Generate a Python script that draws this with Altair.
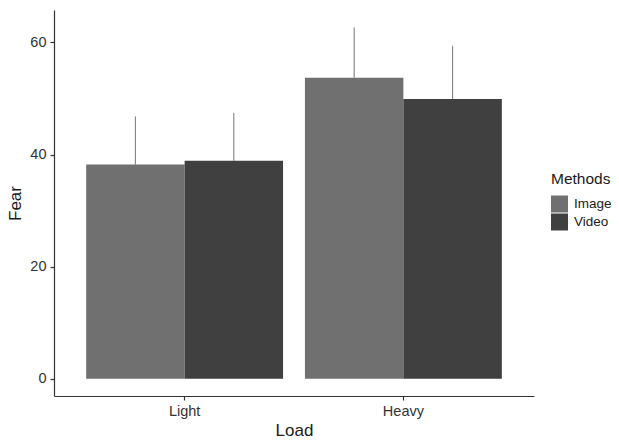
import altair as alt
import pandas as pd

loads = ["Light", "Light", "Heavy", "Heavy"]
methods = ["Image", "Video", "Image", "Video"]
fear = [38.2, 38.9, 53.7, 49.9]
upper = [46.8, 47.4, 62.7, 59.4]

load_order = ["Light", "Heavy"]
method_order = ["Image", "Video"]
colors = ["#707070", "#404040"]

df = pd.DataFrame({"Load": loads, "Methods": methods, "Fear": fear, "Upper": upper})

FONT = "Liberation Sans"

x = alt.X("Load:N", sort=load_order, title="Load",
          scale=alt.Scale(paddingInner=0.1, paddingOuter=0.147),
          axis=alt.Axis(labelAngle=0))
xo = alt.XOffset("Methods:N", sort=method_order,
                 scale=alt.Scale(paddingInner=0, paddingOuter=0))
yscale = alt.Scale(domain=[-3.1, 65.8], nice=False, zero=False)

bars = alt.Chart(df).mark_bar().encode(
    x=x,
    xOffset=xo,
    y=alt.Y("Fear:Q", title="Fear", scale=yscale,
            axis=alt.Axis(values=[0, 20, 40, 60])),
    y2=alt.datum(0),
    color=alt.Color("Methods:N", sort=method_order,
                    scale=alt.Scale(domain=method_order, range=colors),
                    legend=alt.Legend(orient="none", legendX=497, legendY=162,
                                      symbolType="square", symbolSize=289,
                                      symbolStrokeWidth=0, rowPadding=1,
                                      labelOffset=6, titlePadding=8)),
)

err = alt.Chart(df).mark_rule(color="#777777", strokeWidth=1).encode(
    x=x,
    xOffset=xo,
    y=alt.Y("Fear:Q", scale=yscale),
    y2="Upper:Q",
)

chart = alt.layer(err, bars).properties(
    width=480, height=386,
    autosize=alt.AutoSizeParams(type="none"),
    padding={"left": 46, "top": 2, "right": 77, "bottom": 45},
).configure_view(stroke=None).configure_axis(
    grid=False,
    domainColor="#333333",
    domainWidth=1.2,
    tickColor="#333333",
    tickWidth=1.2,
    tickSize=4,
    labelFont=FONT,
    labelFontSize=14.5,
    labelColor="#333333",
    labelPadding=4,
    titleFont=FONT,
    titleFontSize=17,
    titleFontWeight="normal",
    titleColor="#1a1a1a",
    titlePadding=5,
).configure_legend(
    titleFont=FONT,
    titleFontSize=15.5,
    titleFontWeight="normal",
    titleColor="#1a1a1a",
    labelFont=FONT,
    labelFontSize=13.5,
    labelColor="#1a1a1a",
)

chart.save("out.html", embed_options={"renderer": "svg", "actions": False})
